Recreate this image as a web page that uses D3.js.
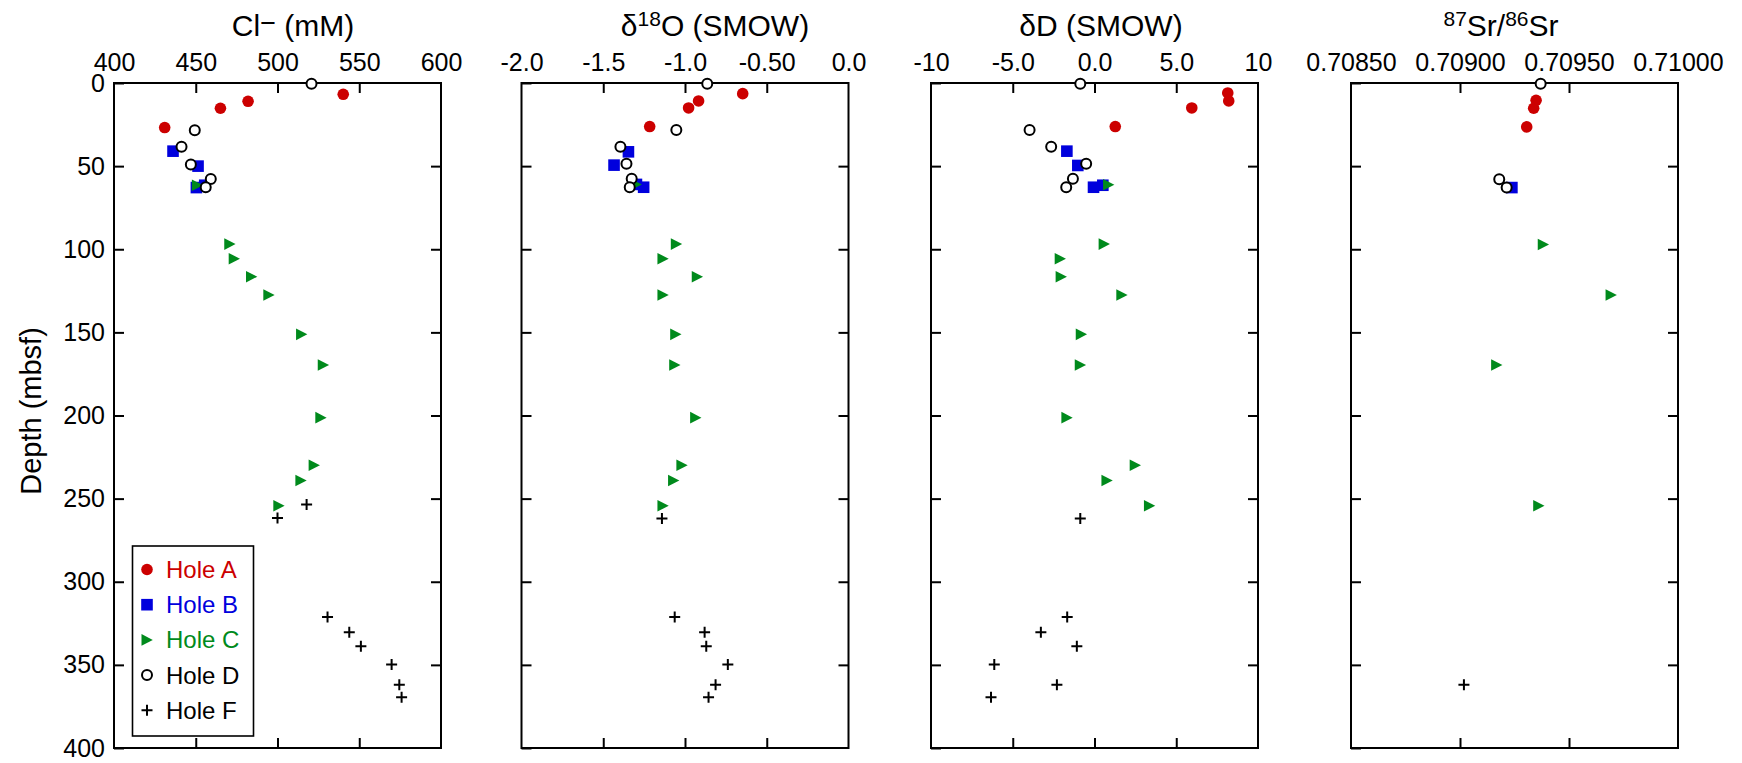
<!DOCTYPE html>
<html lang="en">

<head>
  <meta charset="UTF-8">
  <title>Pore water profiles</title>
  <script src="https://d3js.org/d3.v7.min.js"></script>
  <style>
    body { margin: 0; background: #fff; }
    svg { font-family: "Liberation Sans", Arial, Helvetica, sans-serif; }
  </style>
</head>

<body>
  <svg width="1742" height="763"></svg>
</body>

<script>
  // ---- data: [value, depth (mbsf)] ----
  const holeNames = ["Hole A", "Hole B", "Hole C", "Hole D", "Hole F"];

  // Cl- (mM)
  const clHoleA = [[540.2, 6.8], [482.0, 11.0], [465.1, 15.2], [431.0, 26.8]];
  const clHoleB = [[436.1, 41.0], [451.4, 50.0], [450.4, 62.9], [455.5, 61.5]];
  const clHoleC = [[451.0, 61.5], [470.8, 96.9], [473.5, 105.7], [484.1, 116.5], [494.7, 127.5], [514.7, 151.2],
    [528.0, 169.6], [526.5, 201.3], [522.4, 229.9], [514.3, 239.1], [500.8, 254.3]];
  const clHoleD = [[520.8, 0.4], [449.4, 28.4], [441.3, 38.4], [447.0, 49.0], [459.2, 57.7], [456.1, 62.7]];
  const clHoleF = [[517.8, 253.5], [500.0, 261.7], [530.6, 321.2], [543.9, 330.4], [551.0, 338.8], [569.8, 349.8],
    [574.5, 362.0], [575.9, 369.5]];

  // d18O (SMOW)
  const o18HoleA = [[-0.647, 6.4], [-0.917, 10.8], [-0.978, 15.0], [-1.216, 26.2]];
  const o18HoleB = [[-1.346, 41.4], [-1.434, 49.4], [-1.253, 62.7], [-1.297, 61.0]];
  const o18HoleC = [[-1.30, 61.0], [-1.053, 96.9], [-1.135, 105.7], [-0.925, 116.5], [-1.135, 127.5], [-1.057, 151.2],
    [-1.063, 169.6], [-0.935, 201.3], [-1.019, 229.9], [-1.070, 239.1], [-1.135, 254.3]];
  const o18HoleD = [[-0.864, 0.4], [-1.053, 28.2], [-1.395, 38.4], [-1.358, 48.6], [-1.326, 57.6], [-1.338, 62.7]];
  const o18HoleF = [[-1.141, 261.9], [-1.063, 321.2], [-0.880, 330.4], [-0.870, 338.8], [-0.738, 349.8],
    [-0.813, 362.0], [-0.856, 369.5]];

  // dD (SMOW)
  const dDHoleA = [[8.15, 6.0], [8.21, 10.8], [5.95, 15.0], [1.27, 26.2]];
  const dDHoleB = [[-1.69, 41.0], [-1.02, 49.6], [-0.06, 62.7], [0.51, 61.5]];
  const dDHoleC = [[0.86, 61.2], [0.59, 96.9], [-2.10, 105.7], [-2.04, 116.5], [1.67, 127.5], [-0.81, 151.2],
    [-0.87, 169.6], [-1.69, 201.3], [2.49, 229.9], [0.76, 239.1], [3.36, 254.3]];
  const dDHoleD = [[-0.87, 0.4], [-3.97, 28.2], [-2.65, 38.4], [-0.51, 48.6], [-1.32, 57.6], [-1.73, 62.7]];
  const dDHoleF = [[-0.87, 261.9], [-1.67, 321.2], [-3.28, 330.4], [-1.08, 338.8], [-6.13, 349.8], [-2.30, 362.0],
    [-6.33, 369.5]];

  // 87Sr/86Sr
  const srHoleA = [[0.709349, 10.4], [0.709338, 15.2], [0.709306, 26.4]];
  const srHoleB = [[0.709238, 62.9]];
  const srHoleC = [[0.709382, 97.1], [0.709693, 127.5], [0.709168, 169.6], [0.709361, 254.3]];
  const srHoleD = [[0.709370, 0.4], [0.709180, 57.9], [0.709214, 62.9]];
  const srHoleF = [[0.709018, 362.0]];

  // axes
  const depthTicks = [0, 50, 100, 150, 200, 250, 300, 350, 400];
  const clTicks = [400, 450, 500, 550, 600];
  const clTickLabels = ["400", "450", "500", "550", "600"];
  const o18Ticks = [-2.0, -1.5, -1.0, -0.5, 0.0];
  const o18TickLabels = ["-2.0", "-1.5", "-1.0", "-0.50", "0.0"];
  const dDTicks = [-10, -5, 0, 5, 10];
  const dDTickLabels = ["-10", "-5.0", "0.0", "5.0", "10"];
  const srTicks = [0.7085, 0.709, 0.7095, 0.71];
  const srTickLabels = ["0.70850", "0.70900", "0.70950", "0.71000"];

  // ---- layout ----
  const svg = d3.select("svg");
  const plotTop = 83, plotBottom = 748, panelW = 327;
  const panelX = [114, 521.5, 931, 1351];
  const titleX = [293, 715, 1101, 1501];

  const holeColor = { "Hole A": "#cc0000", "Hole B": "#0000dd", "Hole C": "#008a1c", "Hole D": "#000", "Hole F": "#000" };

  const panels = [
    { ticks: clTicks, labels: clTickLabels, series: [clHoleA, clHoleB, clHoleC, clHoleD, clHoleF] },
    { ticks: o18Ticks, labels: o18TickLabels, series: [o18HoleA, o18HoleB, o18HoleC, o18HoleD, o18HoleF] },
    { ticks: dDTicks, labels: dDTickLabels, series: [dDHoleA, dDHoleB, dDHoleC, dDHoleD, dDHoleF] },
    { ticks: srTicks, labels: srTickLabels, series: [srHoleA, srHoleB, srHoleC, srHoleD, srHoleF] }
  ];

  const yScale = d3.scaleLinear().domain([0, 400]).range([plotTop, plotBottom]);

  // marker drawing
  const triPath = "M-5.5,-5.8L5.8,0L-5.5,5.8Z";
  function drawMark(sel, hole) {
    const c = holeColor[hole];
    if (hole === "Hole A") {
      sel.append("circle").attr("r", 5.8).attr("fill", c);
    } else if (hole === "Hole B") {
      sel.append("rect").attr("x", -5.8).attr("y", -5.8).attr("width", 11.6).attr("height", 11.6).attr("fill", c);
    } else if (hole === "Hole C") {
      sel.append("path").attr("d", triPath).attr("fill", c);
    } else if (hole === "Hole D") {
      sel.append("circle").attr("r", 5).attr("fill", "#fff").attr("stroke", c).attr("stroke-width", 2);
    } else {
      sel.append("path").attr("d", "M-5.5,0H5.5M0,-5.5V5.5").attr("stroke", c).attr("stroke-width", 2).attr("fill", "none");
    }
  }

  function styleAxis(g) {
    g.select(".domain").remove();
    g.selectAll(".tick line").attr("stroke", "#000").attr("stroke-width", 2);
    g.selectAll(".tick text").attr("fill", "#000").attr("font-size", "25px")
      .attr("font-family", "'Liberation Sans', Arial, Helvetica, sans-serif");
  }

  panels.forEach((p, i) => {
    const g = svg.append("g").attr("transform", "translate(" + panelX[i] + ",0)");
    const x = d3.scaleLinear().domain(d3.extent(p.ticks)).range([0, panelW]);
    const inner = p.ticks.slice(1, -1);

    // top axis with labels
    g.append("g")
      .attr("transform", "translate(0," + plotTop + ")")
      .call(d3.axisTop(x).tickValues(p.ticks).tickSize(-10).tickPadding(12)
        .tickFormat((d, j) => p.labels[j]))
      .call(styleAxis)
      .selectAll(".tick line").filter(d => !inner.includes(d)).remove();

    // bottom axis
    g.append("g")
      .attr("transform", "translate(0," + plotBottom + ")")
      .call(d3.axisBottom(x).tickValues(inner).tickSize(-10).tickFormat(""))
      .call(styleAxis);

    // left axis
    g.append("g")
      .call(d3.axisLeft(yScale).tickValues(depthTicks).tickSize(-10).tickPadding(9)
        .tickFormat(i === 0 ? d3.format("d") : ""))
      .call(styleAxis);

    // right axis
    g.append("g")
      .attr("transform", "translate(" + panelW + ",0)")
      .call(d3.axisRight(yScale).tickValues(depthTicks.slice(1, -1)).tickSize(-10).tickFormat(""))
      .call(styleAxis);

    // frame
    g.append("rect")
      .attr("x", 0).attr("y", plotTop)
      .attr("width", panelW).attr("height", plotBottom - plotTop)
      .attr("fill", "none").attr("stroke", "#000").attr("stroke-width", 2);

    // points
    p.series.forEach((data, h) => {
      const hole = holeNames[h];
      g.append("g")
        .attr("class", "hole-" + h)
        .selectAll("g")
        .data(data)
        .enter()
        .append("g")
        .attr("transform", d => "translate(" + x(d[0]) + "," + yScale(d[1]) + ")")
        .each(function () { drawMark(d3.select(this), hole); });
    });
  });

  /**
   * titles
   */
  const titleFont = "30px";
  const sup = { size: "21px", dy: -10 };

  const t0 = svg.append("text").attr("x", titleX[0]).attr("y", 36).attr("text-anchor", "middle").attr("font-size", titleFont);
  t0.append("tspan").text("Cl");
  t0.append("tspan").attr("font-size", "27px").attr("dy", -4).text("\u2212");
  t0.append("tspan").attr("dy", 4).text(" (mM)");

  const t1 = svg.append("text").attr("x", titleX[1]).attr("y", 36).attr("text-anchor", "middle").attr("font-size", titleFont);
  t1.append("tspan").text("\u03b4");
  t1.append("tspan").attr("font-size", sup.size).attr("dy", sup.dy).text("18");
  t1.append("tspan").attr("dy", -sup.dy).text("O (SMOW)");

  svg.append("text").attr("x", titleX[2]).attr("y", 36).attr("text-anchor", "middle").attr("font-size", titleFont)
    .text("\u03b4D (SMOW)");

  const t3 = svg.append("text").attr("x", titleX[3]).attr("y", 36).attr("text-anchor", "middle").attr("font-size", titleFont);
  t3.append("tspan").attr("font-size", sup.size).attr("dy", sup.dy).text("87");
  t3.append("tspan").attr("dy", -sup.dy).text("Sr/");
  t3.append("tspan").attr("font-size", sup.size).attr("dy", sup.dy).text("86");
  t3.append("tspan").attr("dy", -sup.dy).text("Sr");

  svg.append("text")
    .attr("transform", "translate(41,411) rotate(-90)")
    .attr("text-anchor", "middle")
    .attr("font-size", "29px")
    .text("Depth (mbsf)");

  /**
   * legend
   */
  const legend = svg.append("g");
  legend.append("rect")
    .attr("x", 132.5).attr("y", 546)
    .attr("width", 121).attr("height", 190)
    .attr("fill", "#fff").attr("stroke", "#000").attr("stroke-width", 1.6);

  holeNames.forEach((hole, i) => {
    const row = legend.append("g").attr("transform", "translate(0," + (569.5 + i * 35.2) + ")");
    const m = row.append("g").attr("transform", "translate(147,0)");
    drawMark(m, hole);
    row.append("text")
      .attr("x", 166).attr("y", 8.5)
      .attr("font-size", "24px")
      .attr("fill", holeColor[hole])
      .text(hole);
  });
</script>

</html>
